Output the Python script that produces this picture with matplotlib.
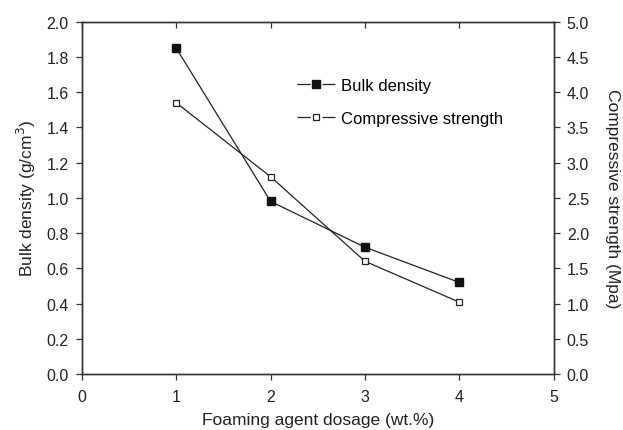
import matplotlib
matplotlib.use("Agg")
import matplotlib.pyplot as plt
from matplotlib.lines import Line2D

plt.rcParams['font.family'] = ['Liberation Sans', 'DejaVu Sans']
plt.rcParams['lines.scale_dashes'] = False

dosage = [1, 2, 3, 4]
bulk_density = [1.85, 0.98, 0.72, 0.52]
comp_strength = [3.85, 2.80, 1.60, 1.02]

axis_color = '#333333'
text_color = '#222222'

fig = plt.figure(figsize=(6.23, 4.31), dpi=100)
ax = fig.add_axes([0.1316, 0.130, 0.757, 0.817])
ax2 = ax.twinx()

ax.plot(dosage, bulk_density, '-', color='#222222', lw=0.9,
        marker='s', ms=5.8, mfc='#111111', mec='#111111')
ax2.plot(dosage, comp_strength, '-', color='#222222', lw=0.9,
         marker='s', ms=4.4, mfc='white', mec='#222222', mew=0.9)

ax.set_xlim(0, 5)
ax.set_ylim(0, 2.0)
ax2.set_ylim(0, 5.0)
ax.set_xticks(range(0, 6))
ax.set_yticks([i * 0.2 for i in range(11)])
ax.set_yticklabels(['%.1f' % (i * 0.2) for i in range(11)])
ax2.set_yticks([i * 0.5 for i in range(11)])
ax2.set_yticklabels(['%.1f' % (i * 0.5) for i in range(11)])

for a in (ax, ax2):
    for s in a.spines.values():
        s.set_color(axis_color)
        s.set_linewidth(1.0)
    a.tick_params(colors=axis_color, labelcolor=text_color, labelsize=11.5,
                  length=4.5, width=0.9, pad=5, direction='out')

ax.tick_params(axis='x', top=True, pad=6)
# top ticks point inward
for t in ax.xaxis.get_major_ticks():
    t.tick2line.set_marker(3)

ax.set_xlabel('Foaming agent dosage (wt.%)', fontsize=12.5, color=text_color, labelpad=6)
ax.set_ylabel('Bulk density (g/cm$^3$)', fontsize=12.5, color=text_color, labelpad=6)
ax2.set_ylabel('Compressive strength (Mpa)', fontsize=12.5, color=text_color,
               rotation=270, labelpad=22)

# legend handles: short line, marker, short line
gap = (0, (9.5, 8.5, 9.5, 60))
h1 = Line2D([], [], color='#222222', lw=0.9, linestyle=gap,
            marker='s', ms=5.8, mfc='#111111', mec='#111111')
h2 = Line2D([], [], color='#222222', lw=0.9, linestyle=gap,
            marker='s', ms=4.4, mfc='white', mec='#222222', mew=0.9)
leg = ax.legend([h1, h2], ['Bulk density', 'Compressive strength'],
                loc='upper left', bbox_to_anchor=(0.425, 0.883), frameon=False,
                fontsize=12, handlelength=2.25, handletextpad=0.35,
                labelspacing=1.05, numpoints=1)

fig.savefig('out.png', dpi=100)
